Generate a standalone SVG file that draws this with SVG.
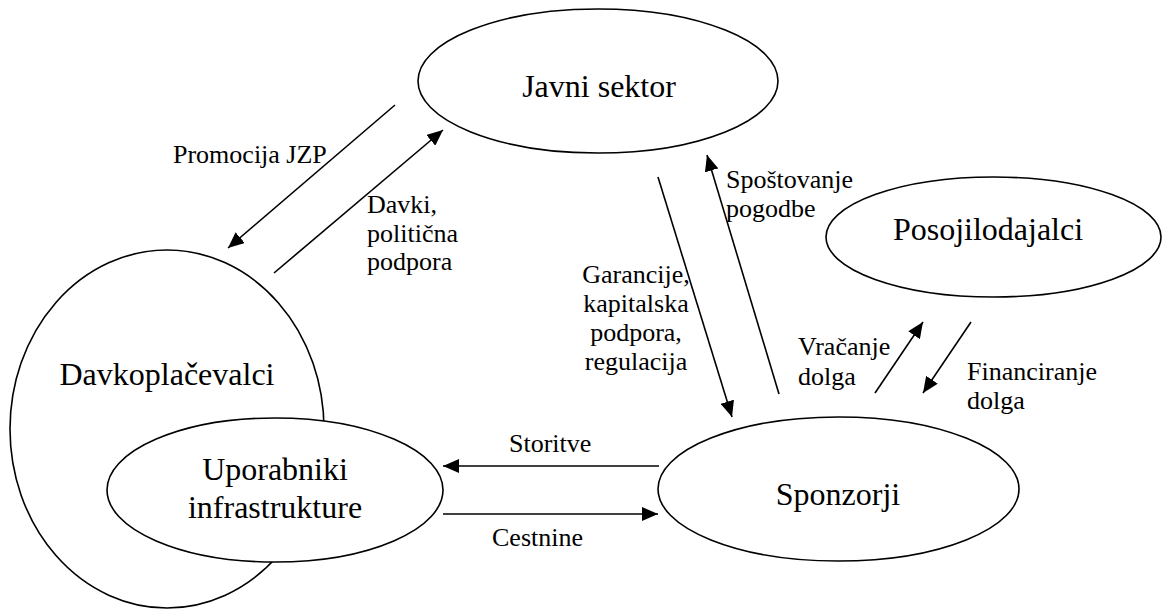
<svg xmlns="http://www.w3.org/2000/svg" width="1163" height="610" viewBox="0 0 1163 610">
<style>
.node{fill:#fff;stroke:#000;stroke-width:1.6}
.nt{font-family:'Liberation Serif','DejaVu Serif',serif;font-size:32px;fill:#000;text-anchor:middle}
.et{font-family:'Liberation Serif','DejaVu Serif',serif;font-size:26px;fill:#000}
.c{stroke:#000;stroke-width:1.6;fill:none;marker-end:url(#ah)}
</style>
<defs>
<marker id="ah" viewBox="0 0 16 14" refX="16" refY="7" markerWidth="16" markerHeight="14" markerUnits="userSpaceOnUse" orient="auto">
<path d="M0,0 L16,7 L0,14 z" fill="#000"/>
</marker>
</defs>
<rect width="1163" height="610" fill="#fff"/>
<g id="javni-sektor">
<ellipse class="node" cx="598" cy="81" rx="180" ry="72"/>
<text class="nt" x="599" y="97">Javni sektor</text>
</g>
<g id="posojilodajalci">
<ellipse class="node" cx="993.5" cy="237" rx="167.5" ry="60"/>
<text class="nt" x="988" y="240">Posojilodajalci</text>
</g>
<g id="davkoplacevalci">
<ellipse class="node" cx="167" cy="429" rx="157" ry="179"/>
<text class="nt" x="167" y="385">Davkoplačevalci</text>
</g>
<g id="uporabniki">
<ellipse class="node" cx="275" cy="490" rx="168" ry="72"/>
<text class="nt" x="275" y="480">Uporabniki</text>
<text class="nt" x="275" y="518">infrastrukture</text>
</g>
<g id="sponzorji">
<ellipse class="node" cx="838.5" cy="489" rx="180.5" ry="72"/>
<text class="nt" x="838" y="505">Sponzorji</text>
</g>
<g id="connectors">
<line class="c" x1="395" y1="105" x2="228" y2="248"/>
<line class="c" x1="274" y1="273" x2="443" y2="130"/>
<line class="c" x1="658" y1="177" x2="732" y2="417"/>
<line class="c" x1="779" y1="394" x2="707" y2="155"/>
<line class="c" x1="659" y1="466" x2="443" y2="466"/>
<line class="c" x1="443" y1="514" x2="658" y2="514"/>
<line class="c" x1="875" y1="393" x2="923" y2="322"/>
<line class="c" x1="971" y1="322" x2="923" y2="393"/>
</g>
<g id="labels">
<text class="et" x="173" y="163">Promocija JZP</text>
<text class="et" x="367" y="213">Davki,</text>
<text class="et" x="367" y="242">politična</text>
<text class="et" x="367" y="270">podpora</text>
<text class="et" x="726" y="188">Spoštovanje</text>
<text class="et" x="726" y="217">pogodbe</text>
<text class="et" x="636" y="283" text-anchor="middle">Garancije,</text>
<text class="et" x="636" y="312" text-anchor="middle">kapitalska</text>
<text class="et" x="636" y="341" text-anchor="middle">podpora,</text>
<text class="et" x="636" y="370" text-anchor="middle">regulacija</text>
<text class="et" x="798" y="355">Vračanje</text>
<text class="et" x="798" y="385">dolga</text>
<text class="et" x="967" y="380">Financiranje</text>
<text class="et" x="967" y="409">dolga</text>
<text class="et" x="509" y="452">Storitve</text>
<text class="et" x="492" y="546">Cestnine</text>
</g>
</svg>
